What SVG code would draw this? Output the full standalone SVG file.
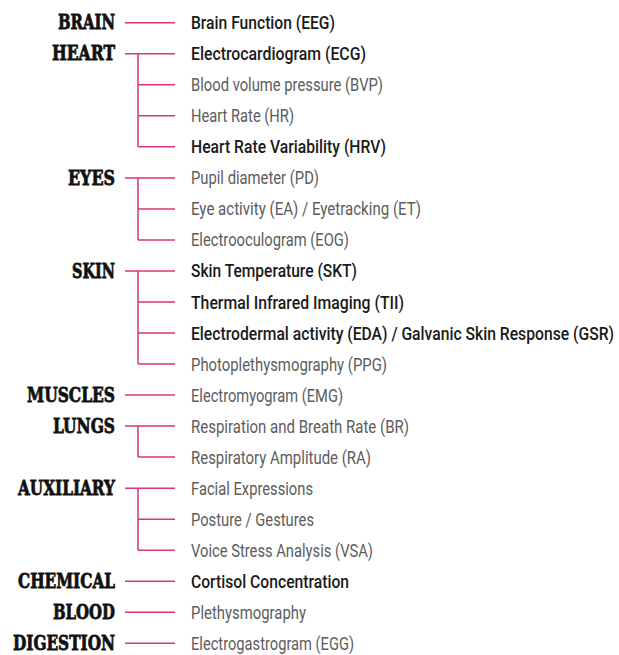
<svg xmlns="http://www.w3.org/2000/svg" width="619" height="655" viewBox="0 0 619 655">
<style>
.h{font-family:"DejaVu Serif","Liberation Serif",serif;font-weight:900;font-size:20px;fill:#111;stroke:#111;stroke-width:0.8;text-anchor:end}
.d{font-family:Roboto,"Liberation Sans",sans-serif;font-size:18px;font-weight:500;fill:#1a1a1a}
.l{font-family:Roboto,"Liberation Sans",sans-serif;font-size:18px;font-weight:400;fill:#5c5c5c}
.c{stroke:#d9347f;stroke-width:1.5;fill:none}
</style>
<rect width="619" height="655" fill="#fff"/>
<g id="connectors">
<path class="c" d="M125 22.7H175"/>
<path class="c" d="M125 53.7H175M138 53.7V146.8M138 84.8H175M138 115.8H175M138 146.8H175"/>
<path class="c" d="M125 177.9H175M138 177.9V239.9M138 208.9H175M138 239.9H175"/>
<path class="c" d="M125 270.9H175M138 270.9V364M138 302H175M138 333H175M138 364H175"/>
<path class="c" d="M125 395.1H175"/>
<path class="c" d="M125 426.1H175M138 426.1V457.1M138 457.1H175"/>
<path class="c" d="M125 488.2H175M138 488.2V550.2M138 519.2H175M138 550.2H175"/>
<path class="c" d="M125 581.2H175"/>
<path class="c" d="M125 612.3H175"/>
<path class="c" d="M125 643.3H175"/>
</g>
<g id="brain"><text class="h" x="115" y="29.4" textLength="57" lengthAdjust="spacingAndGlyphs">BRAIN</text>
<text class="d" x="191" y="29.2" textLength="144" lengthAdjust="spacingAndGlyphs">Brain Function (EEG)</text></g>
<g id="heart"><text class="h" x="115" y="60.4" textLength="63" lengthAdjust="spacingAndGlyphs">HEART</text>
<text class="d" x="191" y="60.2" textLength="175" lengthAdjust="spacingAndGlyphs">Electrocardiogram (ECG)</text>
<text class="l" x="191" y="91.3" textLength="192" lengthAdjust="spacingAndGlyphs">Blood volume pressure (BVP)</text>
<text class="l" x="191" y="122.3" textLength="103" lengthAdjust="spacingAndGlyphs">Heart Rate (HR)</text>
<text class="d" x="191" y="153.3" textLength="195" lengthAdjust="spacingAndGlyphs">Heart Rate Variability (HRV)</text></g>
<g id="eyes"><text class="h" x="115" y="184.6" textLength="47" lengthAdjust="spacingAndGlyphs">EYES</text>
<text class="l" x="191" y="184.4" textLength="128" lengthAdjust="spacingAndGlyphs">Pupil diameter (PD)</text>
<text class="l" x="191" y="215.4" textLength="230" lengthAdjust="spacingAndGlyphs">Eye activity (EA) / Eyetracking (ET)</text>
<text class="l" x="191" y="246.4" textLength="158" lengthAdjust="spacingAndGlyphs">Electrooculogram (EOG)</text></g>
<g id="skin"><text class="h" x="115" y="277.6" textLength="43" lengthAdjust="spacingAndGlyphs">SKIN</text>
<text class="d" x="191" y="277.4" textLength="166" lengthAdjust="spacingAndGlyphs">Skin Temperature (SKT)</text>
<text class="d" x="191" y="308.5" textLength="213" lengthAdjust="spacingAndGlyphs">Thermal Infrared Imaging (TII)</text>
<text class="d" x="191" y="339.5" textLength="423" lengthAdjust="spacingAndGlyphs">Electrodermal activity (EDA) / Galvanic Skin Response (GSR)</text>
<text class="l" x="191" y="370.5" textLength="196" lengthAdjust="spacingAndGlyphs">Photoplethysmography (PPG)</text></g>
<g id="muscles"><text class="h" x="115" y="401.8" textLength="88" lengthAdjust="spacingAndGlyphs">MUSCLES</text>
<text class="l" x="191" y="401.6" textLength="152" lengthAdjust="spacingAndGlyphs">Electromyogram (EMG)</text></g>
<g id="lungs"><text class="h" x="115" y="432.8" textLength="62" lengthAdjust="spacingAndGlyphs">LUNGS</text>
<text class="l" x="191" y="432.6" textLength="218" lengthAdjust="spacingAndGlyphs">Respiration and Breath Rate (BR)</text>
<text class="l" x="191" y="463.6" textLength="180" lengthAdjust="spacingAndGlyphs">Respiratory Amplitude (RA)</text></g>
<g id="auxiliary"><text class="h" x="115" y="494.9" textLength="97" lengthAdjust="spacingAndGlyphs">AUXILIARY</text>
<text class="l" x="191" y="494.7" textLength="122" lengthAdjust="spacingAndGlyphs">Facial Expressions</text>
<text class="l" x="191" y="525.7" textLength="123" lengthAdjust="spacingAndGlyphs">Posture / Gestures</text>
<text class="l" x="191" y="556.7" textLength="182" lengthAdjust="spacingAndGlyphs">Voice Stress Analysis (VSA)</text></g>
<g id="chemical"><text class="h" x="115" y="587.9" textLength="97" lengthAdjust="spacingAndGlyphs">CHEMICAL</text>
<text class="d" x="191" y="587.7" textLength="158" lengthAdjust="spacingAndGlyphs">Cortisol Concentration</text></g>
<g id="blood"><text class="h" x="115" y="619" textLength="62" lengthAdjust="spacingAndGlyphs">BLOOD</text>
<text class="l" x="191" y="618.8" textLength="115" lengthAdjust="spacingAndGlyphs">Plethysmography</text></g>
<g id="digestion"><text class="h" x="115" y="650" textLength="102" lengthAdjust="spacingAndGlyphs">DIGESTION</text>
<text class="l" x="191" y="649.8" textLength="163" lengthAdjust="spacingAndGlyphs">Electrogastrogram (EGG)</text></g>
</svg>
